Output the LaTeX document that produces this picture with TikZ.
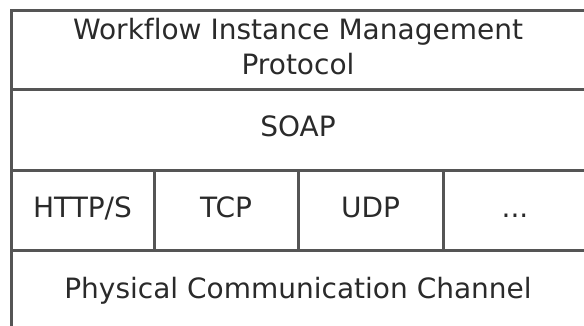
\documentclass[tikz,border=0pt]{standalone}
\usepackage{fontspec}
\setmainfont[Ligatures=NoCommon]{DejaVu Sans}
\definecolor{linec}{HTML}{555555}
\definecolor{textc}{HTML}{2A2A2A}
\begin{document}
\begin{tikzpicture}[x=1pt,y=-1pt,
  cell/.style={draw=linec,line width=3pt,rectangle,inner sep=0pt,outer sep=0pt},
  lbl/.style={text=textc,font=\fontsize{28}{35}\selectfont,align=center,inner sep=0pt}]
\useasboundingbox (0,0) rectangle (584,326);
\clip (0,0) rectangle (584,326);
\node[cell,minimum width=576pt,minimum height=79pt] (wim) at (299,50.5) {};
\node[cell,minimum width=576pt,minimum height=81pt] (soap) at (299,130.5) {};
\node[cell,minimum width=143pt,minimum height=79pt] (http) at (82.5,210.5) {};
\node[cell,minimum width=144pt,minimum height=79pt] (tcp) at (226,210.5) {};
\node[cell,minimum width=145pt,minimum height=79pt] (udp) at (370.5,210.5) {};
\node[cell,minimum width=144pt,minimum height=79pt] (dots) at (515,210.5) {};
\node[cell,minimum width=576pt,minimum height=80pt] (phys) at (299,290) {};
\node[lbl,anchor=base] (wimt) at (298,75) {Workflow Instance Management\\Protocol};
\node[lbl,anchor=base] (soapt) at (298,137) {SOAP};
\node[lbl,anchor=base] (httpt) at (82.5,218) {HTTP/S};
\node[lbl,anchor=base] (tcpt) at (226,218) {TCP};
\node[lbl,anchor=base] (udpt) at (370.5,218) {UDP};
\node[lbl,anchor=base] (dotst) at (515,218) {...};
\node[lbl,anchor=base] (physt) at (298,298) {Physical Communication Channel};
\end{tikzpicture}
\end{document}
